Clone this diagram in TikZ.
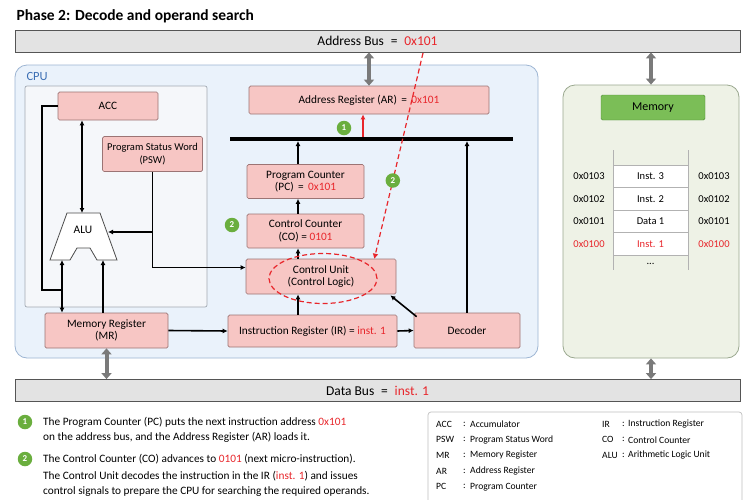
\documentclass[tikz,border=0pt]{standalone}
\usepackage{fontspec}
\setmainfont{Carlito}
\usetikzlibrary{arrows.meta}

\definecolor{regfill}{HTML}{F7C6C4}
\definecolor{regline}{HTML}{9C7474}
\definecolor{hot}{HTML}{E8262B}
\definecolor{numgreen}{HTML}{6AAE3E}
\definecolor{busfill}{HTML}{E3E3E3}
\definecolor{busline}{HTML}{555555}
\definecolor{cpufill}{HTML}{EAF2FB}
\definecolor{cpuline}{HTML}{9DB5D3}
\definecolor{cpublue}{HTML}{3C6FB4}
\definecolor{innerfill}{HTML}{F5F7FA}
\definecolor{innerline}{HTML}{A3AAB3}
\definecolor{memfill}{HTML}{EEF2E6}
\definecolor{memline}{HTML}{9AA88F}
\definecolor{memhdfill}{HTML}{7BBE57}
\definecolor{memhdline}{HTML}{4E8B36}
\definecolor{arrowgray}{HTML}{7A7A7A}

\tikzset{
  reg/.style={draw=regline, fill=regfill, rounded corners=1.5pt, align=center,
    font=\fontsize{11.3}{12.5}\selectfont, inner sep=1pt, line width=0.7pt},
  busbar/.style={draw=busline, fill=busfill, minimum width=725pt, minimum height=22pt,
    font=\fontsize{13.5}{15}\selectfont, line width=0.8pt},
  num/.style={circle, fill=numgreen, text=white, font=\fontsize{9}{9}\selectfont\bfseries,
    inner sep=0pt, minimum size=14.5pt},
  wire/.style={line width=1.6pt},
  sig/.style={wire, -{Latex[length=5pt,width=5pt]}},
  sigtwo/.style={wire, {Latex[length=5pt,width=5pt]}-{Latex[length=5pt,width=5pt]}},
  redsig/.style={line width=1.6pt, hot, -{Latex[length=5pt,width=5pt]}},
  reddash/.style={line width=1.2pt, hot, dash pattern=on 5pt off 3pt},
  gbus/.style={line width=4pt, arrowgray, {Triangle[length=6pt,width=10pt]}-{Triangle[length=6pt,width=10pt]}},
  cell/.style={draw=gray!60, fill=white, minimum width=75pt, minimum height=22.5pt,
    font=\fontsize{10.5}{12}\selectfont, line width=0.6pt},
  addr/.style={font=\fontsize{10.5}{12}\selectfont},
  note/.style={anchor=west, inner sep=0pt, font=\fontsize{11.3}{12}\selectfont},
  leg/.style={anchor=west, inner sep=0pt, font=\fontsize{9.6}{11}\selectfont},
}

\begin{document}
\begin{tikzpicture}[x=1pt,y=-1pt]
\clip (0,0) rectangle (750,499);
\fill[white] (0,0) rectangle (750,499);

\node[anchor=west, font=\fontsize{15.5}{17}\selectfont\bfseries] (title) at (13,16) {Phase 2: Decode and operand search};

\node[busbar] (abus) at (377.5,41) {Address Bus \;=\; \textcolor{hot}{0x101}};
\node[busbar] (dbus) at (377.5,390.5) {Data Bus \;=\; \textcolor{hot}{inst. 1}};

\draw[draw=cpuline, fill=cpufill, rounded corners=12pt, line width=0.8pt] (15,65) rectangle (538,358);
\node[anchor=west, text=cpublue, font=\fontsize{12.5}{14}\selectfont] (cpu) at (23,76) {CPU};
\draw[draw=innerline, fill=innerfill, rounded corners=2pt, line width=0.7pt] (25,86) rectangle (207,307);

\node[reg, minimum width=100pt, minimum height=28pt] (acc) at (108,106) {ACC};
\node[reg, minimum width=100pt, minimum height=35pt, font=\fontsize{10.5}{12.5}\selectfont] (psw) at (152.5,154) {Program Status Word\\(PSW)};
\draw[fill=white, draw=black!70, line width=0.8pt] (50,260) -- (67,213) -- (100,213) -- (117,260)
  -- (97,260) -- (90,248) -- (77,248) -- (70,260) -- cycle;
\node[font=\fontsize{11.5}{12}\selectfont] (alu) at (83,230) {ALU};
\node[reg, minimum width=123pt, minimum height=35pt] (mr) at (106.5,330.5) {Memory Register\\(MR)};

\node[reg, minimum width=240pt, minimum height=28pt] (ar) at (369,100) {Address Register (AR) \,=\, \textcolor{hot}{0x101}};
\node[reg, minimum width=117pt, minimum height=34pt] (pc) at (305.5,181.5) {Program Counter\\(PC) \,=\, \textcolor{hot}{0x101}};
\node[reg, minimum width=117pt, minimum height=34pt] (co) at (305.5,231) {Control Counter\\(CO) = \textcolor{hot}{0101}};
\node[reg, minimum width=150pt, minimum height=35pt] (cu) at (321,276.5) {Control Unit\\(Control Logic)};
\node[reg, minimum width=169pt, minimum height=32pt] (ir) at (312.5,331) {Instruction Register (IR) = \textcolor{hot}{inst. 1}};
\node[reg, minimum width=106pt, minimum height=35pt] (dec) at (467,330.5) {Decoder};

\node[draw=memline, fill=memfill, rounded corners=12pt, line width=0.8pt, minimum width=176pt, minimum height=273pt] (mem) at (651,221.5) {};
\node[draw=memhdline, fill=memhdfill, rounded corners=1.5pt, minimum width=104pt, minimum height=25pt,
  font=\fontsize{12}{13}\selectfont] (memhd) at (653,107.5) {Memory};
\draw[gray!60, line width=0.8pt] (613,150) -- (613,270) (688,150) -- (688,270);
\foreach \i/\adr/\txt/\col in {0/0x0103/Inst. 3/black, 1/0x0102/Inst. 2/black, 2/0x0101/Data 1/black, 3/0x0100/Inst. 1/hot}
{
  \node[cell, text=\col] (cell\i) at (650.5,{176.5+22.5*\i}) {\txt};
  \node[addr, text=\col] (adl\i) at (589,{176.5+22.5*\i}) {\adr};
  \node[addr, text=\col] (adr\i) at (714,{176.5+22.5*\i}) {\adr};
}
\node[addr] (dots) at (650.5,264) {...};

\draw[gbus] (abus.south -| ar.north) -- (ar.north);
\draw[gbus] (abus.south -| mem.north) -- (mem.north);
\draw[gbus] (mr.south) -- (mr.south |- dbus.north);
\draw[gbus] (mem.south) -- (mem.south |- dbus.north);

\coordinate (busL) at (230,139);
\coordinate (busR) at (513,139);
\coordinate (busLo) at (0,141);
\coordinate (busHi) at (0,137);
\coordinate (col) at (298,0);
\coordinate (rcol) at (363,0);
\draw[line width=3.5pt] (busL) -- (busR);
\draw[sig] (pc.north -| col) -- (busLo -| col);
\draw[sig] (co.north -| col) -- (pc.south -| col);
\draw[sig] (cu.north -| col) -- (co.south -| col);
\draw[sig] (ir.north -| col) -- (cu.south -| col);
\draw[sig] (dec.north) -- (dec.north |- busLo);
\draw[redsig] (busHi -| rcol) -- (ar.south -| rcol);
\node[num] (s1) at (344,128) {1};
\node[num] (s2a) at (232,225) {2};

\draw[sig] (mr.east) -- (ir.west);
\draw[sig] (ir.east) -- (dec.west);
\draw[sig] ([xshift=3pt,yshift=-4pt]dec.north west) -- ([xshift=-6pt,yshift=-1pt]cu.south east);

\coordinate (aluT) at (82,213);
\coordinate (aluBL) at (62,260);
\coordinate (aluBR) at (103,260);
\coordinate (aluR) at (108,232);
\draw[sigtwo] (acc.south -| aluT) -- (aluT);
\draw[sigtwo] (mr.north -| aluBL) -- (aluBL);
\draw[sig] (mr.north -| aluBR) -- (aluBR);
\draw[wire] (acc.west) -| (42,290) -- (62,290);
\draw[sig] (psw.south) |- ([yshift=9pt]cu.west);
\draw[sig] (psw.south |- aluR) -- (aluR);

\coordinate (aval) at (423,53);
\draw[reddash, -{Triangle[length=5pt,width=5pt]}] (aval) -- ([xshift=-22pt]cu.north east) node[num, pos=0.62] (s2b) {2};
\draw[reddash] ([xshift=2pt,yshift=-2pt]cu.center) ellipse (54pt and 25pt);

\node[num] (n1) at (25,422) {1};
\node[note] (t1a) at (43,422) {The Program Counter (PC) puts the next instruction address \textcolor{hot}{0x101}};
\node[note] (t1b) at (43,437) {on the address bus, and the Address Register (AR) loads it.};
\node[num] (n2) at (25,459) {2};
\node[note] (t2a) at (43,459) {The Control Counter (CO) advances to \textcolor{hot}{0101} (next micro-instruction).};
\node[note] (t2b) at (43,476) {The Control Unit decodes the instruction in the IR (\textcolor{hot}{inst. 1}) and issues};
\node[note] (t2c) at (43,492) {control signals to prepare the CPU for searching the required operands.};

\draw[draw=gray!50, fill=white, rounded corners=3pt, line width=0.7pt] (428,412) rectangle (742,520);
\foreach \ab/\txt [count=\k] in {ACC/Accumulator, PSW/Program Status Word, MR/Memory Register, AR/Address Register, PC/Program Counter}
{
  \node[leg] (lab\k) at (436,{424+15.7*(\k-1)}) {\ab};
  \node[leg] (lcol\k) at (463,{424+15.7*(\k-1)}) {:};
  \node[leg] (ltxt\k) at (470,{424+15.7*(\k-1)}) {\txt};
}
\foreach \ab/\txt [count=\k] in {IR/Instruction Register, CO/Control Counter, ALU/Arithmetic Logic Unit}
{
  \node[leg] (rab\k) at (602,{424+15.7*(\k-1)}) {\ab};
  \node[leg] (rcol\k) at (622,{424+15.7*(\k-1)}) {:};
  \node[leg] (rtxt\k) at (628,{424+15.7*(\k-1)}) {\txt};
}

\end{tikzpicture}
\end{document}
